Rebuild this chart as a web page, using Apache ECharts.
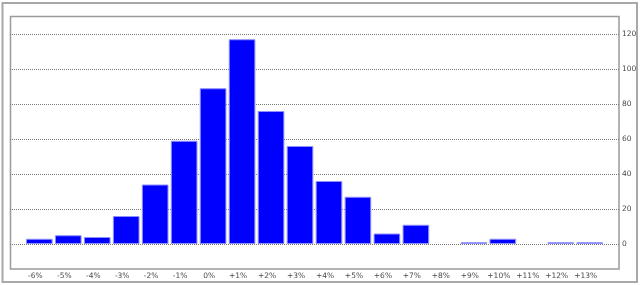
<!DOCTYPE html>
<html><head><meta charset="utf-8">
<script src="https://cdn.jsdelivr.net/npm/echarts@6/dist/echarts.min.js"></script>
<style>html,body{margin:0;padding:0;background:#fff}#c{width:640px;height:285px}</style>
</head><body><div id="c"></div>
<script>
var categories = ['-6%','-5%','-4%','-3%','-2%','-1%','0%','+1%','+2%','+3%','+4%','+5%','+6%','+7%','+8%','+9%','+10%','+11%','+12%','+13%'];
var counts = [3,5,4,16,34,59,89,117,76,56,36,27,6,11,0,1,3,0,1,1];
var yMin = 0, yMax = 120, yStep = 20;

var chart = echarts.init(document.getElementById('c'), null, {renderer:'canvas'});
var font = 'DejaVu Sans';
chart.setOption({
  animation:false,
  backgroundColor:'#fff',
  graphic:[
    {type:'rect', shape:{x:2.5,y:3,width:634.5,height:279}, style:{fill:'none', stroke:'#a8a8a8', lineWidth:2}, z:0},
    {type:'rect', shape:{x:10.5,y:16.5,width:608.5,height:252.5}, style:{fill:'none', stroke:'#9a9a9a', lineWidth:1.5}, z:0}
  ],
  grid:[
    {left:10, right:21, top:34, bottom:41},
    {left:24.8, right:35.8, top:34, bottom:41}
  ],
  xAxis:[
    {gridIndex:0, type:'value', min:0, max:1, show:false},
    {gridIndex:1, type:'category', data:categories,
     axisLine:{show:false}, axisTick:{show:false},
     axisLabel:{margin:28, fontSize:7.5, fontFamily:font, color:'#4a4a4a', padding:[0,8,0,0], interval:0}}
  ],
  yAxis:[
    {gridIndex:0, type:'value', position:'right', min:yMin, max:yMax, interval:yStep,
     axisLine:{show:false}, axisTick:{show:false},
     axisLabel:{margin:3, fontSize:7.5, fontFamily:font, color:'#4a4a4a'},
     splitLine:{show:true, lineStyle:{color:'#7a7a7a', width:1, type:[1,1]}}},
    {gridIndex:1, type:'value', min:yMin, max:yMax, interval:yStep, show:false, splitLine:{show:false}}
  ],
  series:[{
    type:'bar', xAxisIndex:1, yAxisIndex:1,
    data:counts.map(function(v){ return v === 0 ? '-' : v; }),
    barCategoryGap:'8%',
    itemStyle:{color:'#0000ff', borderColor:'#8f8fff', borderWidth:1}
  }]
});
</script></body></html>
